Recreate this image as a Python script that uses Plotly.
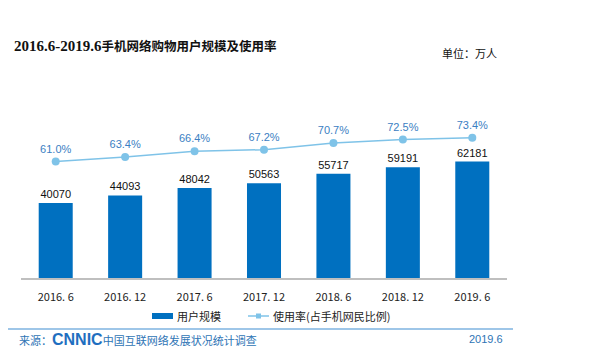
import plotly.graph_objects as go

categories = ["2016. 6", "2016. 12", "2017. 6", "2017. 12", "2018. 6", "2018. 12", "2019. 6"]
users = [40070, 44093, 48042, 50563, 55717, 59191, 62181]
rate = [61.0, 63.4, 66.4, 67.2, 70.7, 72.5, 73.4]

bar_color = "#0070c0"
line_color = "#7fc3e8"
cjk = "Noto Sans CJK SC"

W, H = 604, 356
OFF = 8  # page body margin offset
# plot area in reference (screen) coordinates
X0, X1, Y0, Y1 = 21, 507, 100, 278
L = X0 - OFF
T = Y0 - OFF
R = W - (X1 - OFF)
B = H - (Y1 - OFF)
PW, PH = X1 - X0, Y1 - Y0


def px(x):
    return (x - X0) / PW


def py(y):
    return (Y1 - y) / PH


fig = go.Figure()
fig.add_trace(go.Bar(
    x=categories, y=users, name="用户规模",
    marker=dict(color=bar_color, line=dict(width=0)),
    text=[str(v) for v in users], textposition="outside",
    textfont=dict(color="#111111", size=11, family="Liberation Sans, Arial"),
    cliponaxis=False,
))
fig.add_trace(go.Scatter(
    x=categories, y=rate, name="使用率(占手机网民比例)", yaxis="y2",
    mode="lines+markers+text",
    line=dict(color=line_color, width=1.5),
    marker=dict(color=line_color, size=8),
    text=[f"{v:.1f}%" for v in rate], textposition="top center",
    textfont=dict(color="#3b80c3", size=11, family="Liberation Sans, Arial"),
    cliponaxis=False,
))

fig.update_layout(
    width=W, height=H,
    margin=dict(l=L, r=R, t=T, b=B, autoexpand=False),
    paper_bgcolor="white", plot_bgcolor="white",
    bargap=0.51,
    showlegend=False,
    xaxis=dict(showline=True, linecolor="#bfbfbf", linewidth=1.5, ticks="",
               tickfont=dict(family=cjk, size=11, color="#222222"),
               ticklabelstandoff=8,
               showgrid=False, fixedrange=True),
    yaxis=dict(range=[0, 95085], visible=False, showgrid=False),
    yaxis2=dict(range=[0, 93.2], overlaying="y", visible=False, showgrid=False),
    font=dict(family=cjk),
)

# title
fig.add_annotation(
    text="<b><span style='font-family:Liberation Serif;font-size:15px'>2016.6-2019.6</span>手机网络购物用户规模及使用率</b>",
    xref="paper", yref="paper", x=px(12), xanchor="left",
    y=py(45), yanchor="middle", showarrow=False,
    font=dict(family=cjk, size=12.5, color="#111111"))
fig.add_annotation(text="单位：万人", xref="paper", yref="paper",
                   x=px(440), xanchor="left", y=py(53), yanchor="middle",
                   showarrow=False, font=dict(family=cjk, size=11, color="#111111"))

# manual legend
fig.add_shape(type="rect", xref="paper", yref="paper",
              x0=px(152), x1=px(173), y0=py(319), y1=py(313),
              fillcolor=bar_color, line=dict(width=0))
fig.add_annotation(text="用户规模", xref="paper", yref="paper", x=px(175), xanchor="left",
                   y=py(316), yanchor="middle", showarrow=False,
                   font=dict(family=cjk, size=11, color="#222222"))
fig.add_shape(type="line", xref="paper", yref="paper",
              x0=px(248), x1=px(269), y0=py(316), y1=py(316),
              line=dict(color=line_color, width=1.5))
fig.add_shape(type="rect", xref="paper", yref="paper",
              x0=px(256), x1=px(261), y0=py(318.5), y1=py(313.5),
              fillcolor=line_color, line=dict(width=0))
fig.add_annotation(text="使用率(占手机网民比例)", xref="paper", yref="paper", x=px(271), xanchor="left",
                   y=py(316), yanchor="middle", showarrow=False,
                   font=dict(family=cjk, size=11, color="#222222"))

# footer line
fig.add_shape(type="line", xref="paper", yref="paper",
              x0=px(8), x1=px(513), y0=py(329), y1=py(329),
              line=dict(color="#9ec6e8", width=2))
fig.add_annotation(
    text="来源：<b><span style='font-family:Liberation Sans;font-size:16px;color:#1f6fc0'>CNNIC</span></b>中国互联网络发展状况统计调查",
    xref="paper", yref="paper", x=px(17), xanchor="left",
    y=py(339), yanchor="middle", showarrow=False,
    font=dict(family=cjk, size=11, color="#2e74b5"))
fig.add_annotation(text="2019.6", xref="paper", yref="paper",
                   x=px(505), xanchor="right", y=py(339), yanchor="middle",
                   showarrow=False, font=dict(family="Liberation Sans", size=11, color="#2e74b5"))

fig.write_html("out.html")
